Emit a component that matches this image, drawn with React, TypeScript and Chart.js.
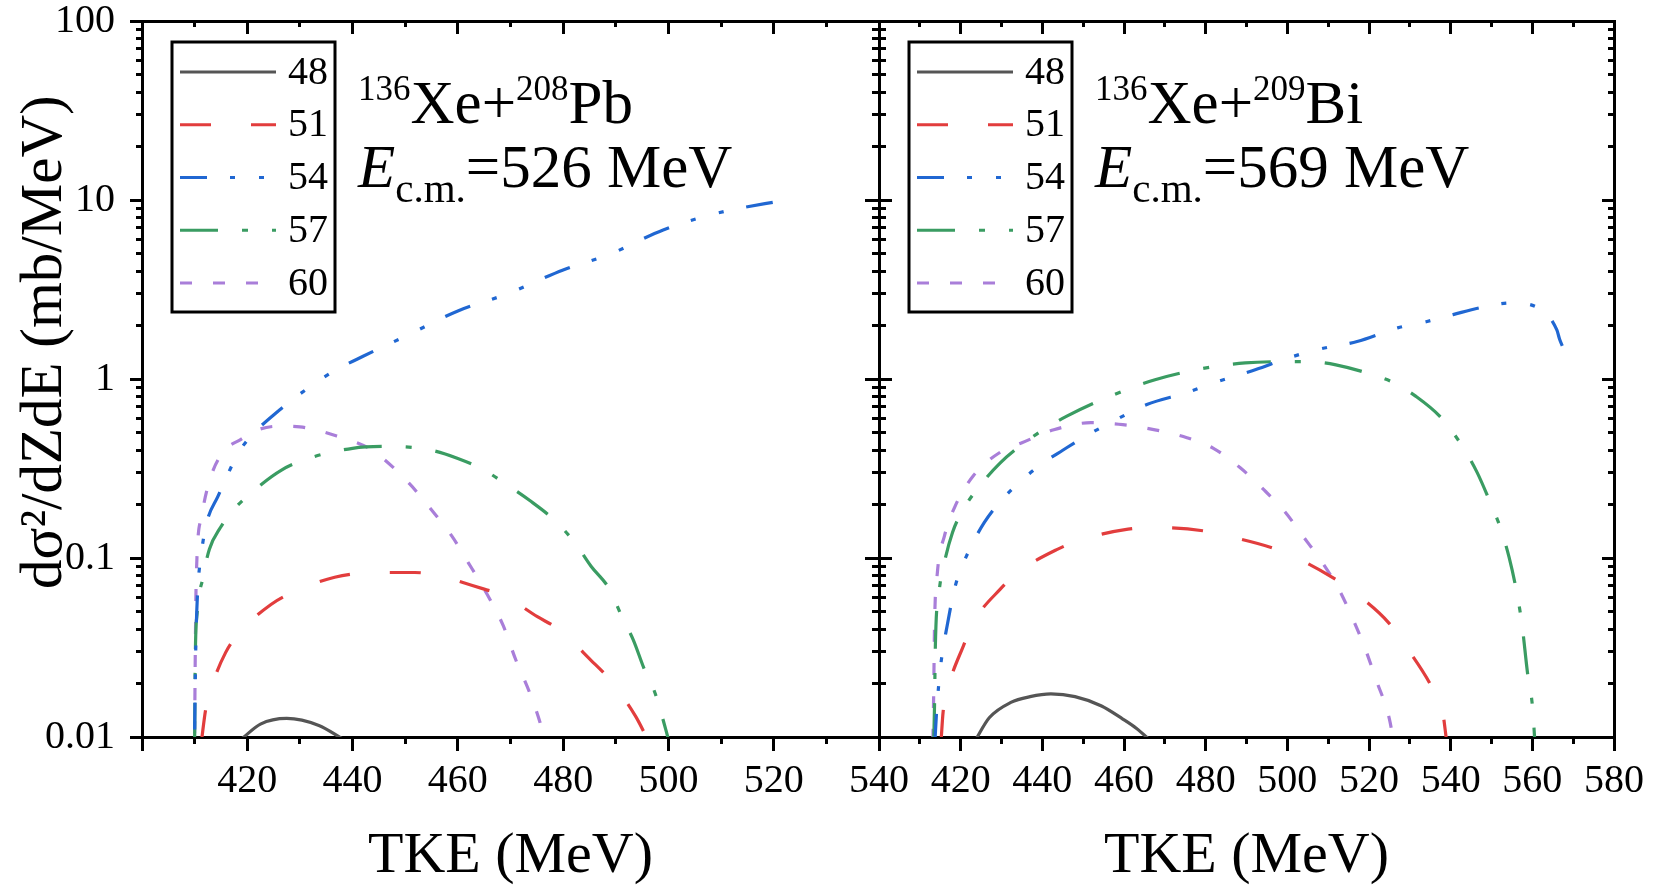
import { useEffect, useRef } from 'react';
import { Chart, registerables } from 'chart.js';
import type { ChartConfiguration, Plugin, Scale } from 'chart.js';

Chart.register(...registerables);

const FONT = '"Liberation Serif", "Times New Roman", serif';

// legend labels (Z) and line styles, same order for both panels
const zLabels = ['48', '51', '54', '57', '60'];
const lineColors = ['#555555', '#e23d3d', '#2067d2', '#3a9c62', '#a97ed9'];
const lineDashes = [[], [31, 40], [27, 23, 5, 24, 5, 23], [38, 24, 6, 24], [12, 21]];

// y axis ticks
const yDecades = [0.01, 0.1, 1, 10, 100];
const yTickLabels = ['0.01', '0.1', '1', '10', '100'];

// ---- 136Xe + 208Pb, Ecm = 526 MeV (TKE in MeV, cross section in mb/MeV)
const pbX48 = [419, 422.5, 427.5, 433.6, 438];
const pbY48 = [0.0098, 0.0118, 0.0127, 0.0116, 0.0098];
const pbX51 = [411.3, 412.1, 413.3, 415.9, 418.4, 424.5, 428.5, 436.6, 444.8, 451.8, 456, 465, 468.6, 475.1, 479.1, 485.2, 488.8, 493.8, 496.2];
const pbY51 = [0.0095, 0.0143, 0.0194, 0.0297, 0.038, 0.055, 0.064, 0.078, 0.083, 0.083, 0.08, 0.067, 0.062, 0.047, 0.04, 0.027, 0.021, 0.013, 0.0095];
const pbX54 = [410, 410.2, 410.5, 411.3, 412.3, 414.4, 418.4, 421, 425, 432, 437, 442, 450, 460, 469.5, 480, 489, 499, 509, 523];
const pbY54 = [0.011, 0.03, 0.059, 0.107, 0.158, 0.22, 0.39, 0.49, 0.63, 0.91, 1.13, 1.34, 1.73, 2.4, 3.0, 4.07, 5.0, 6.8, 8.4, 10.1];
const pbX57 = [410, 410.1, 410.5, 411.5, 412.8, 414.9, 417.4, 421.4, 426.5, 431.6, 440, 447, 455, 460, 465, 469, 473.6, 478.2, 482.2, 485.3, 488.8, 491.3, 493.3, 495.4, 497.4, 499.5, 500.5];
const pbY57 = [0.0095, 0.025, 0.05, 0.076, 0.112, 0.148, 0.186, 0.24, 0.31, 0.36, 0.41, 0.42, 0.4, 0.36, 0.31, 0.26, 0.21, 0.164, 0.122, 0.09, 0.067, 0.046, 0.035, 0.024, 0.0178, 0.011, 0.0085];
const pbX60 = [410, 410.1, 410.3, 411.3, 413, 415.4, 418.8, 422, 426, 430, 437, 443.7, 450.8, 454.9, 458.9, 462, 465, 468.6, 471, 473.6, 475.6, 477];
const pbY60 = [0.0105, 0.025, 0.076, 0.17, 0.28, 0.39, 0.46, 0.52, 0.545, 0.54, 0.48, 0.4, 0.26, 0.187, 0.132, 0.094, 0.067, 0.042, 0.027, 0.0178, 0.0121, 0.0085];

// ---- 136Xe + 209Bi, Ecm = 569 MeV
const biX48 = [423.5, 427, 432.3, 437, 442.1, 448, 454.5, 459.7, 463, 466.6];
const biY48 = [0.0095, 0.0128, 0.0156, 0.0168, 0.0174, 0.0168, 0.0149, 0.0126, 0.0112, 0.0095];
const biX51 = [415.2, 415.7, 417.1, 420.6, 423.2, 429.7, 434.3, 443.4, 449.3, 461, 467.6, 479.3, 485.8, 496.3, 501.5, 510.6, 516.5, 525, 529.5, 535.4, 538, 539];
const biY51 = [0.0095, 0.0138, 0.0195, 0.032, 0.044, 0.067, 0.084, 0.111, 0.126, 0.145, 0.148, 0.142, 0.132, 0.114, 0.102, 0.079, 0.064, 0.043, 0.031, 0.019, 0.014, 0.0095];
const biX54 = [413.7, 414.1, 415.1, 416.7, 418.7, 421.3, 425.8, 430.8, 435.6, 440.2, 445, 450.6, 455.8, 465.6, 475.4, 481.9, 492.3, 500.2, 507.3, 517.1, 527, 534, 540.6, 547.1, 555, 560.8, 566, 566.7, 567.5];
const biY54 = [0.0095, 0.0138, 0.025, 0.042, 0.07, 0.101, 0.158, 0.22, 0.28, 0.34, 0.4, 0.48, 0.556, 0.72, 0.84, 0.95, 1.13, 1.31, 1.46, 1.62, 1.93, 2.09, 2.29, 2.5, 2.66, 2.54, 1.88, 1.66, 1.5];
const biX57 = [413.4, 413.6, 413.8, 414.7, 416, 418, 420.6, 424.5, 429.7, 435, 440.2, 446, 456.5, 467.6, 478, 489.7, 500.2, 505.4, 511.9, 522.3, 526.2, 531.5, 537.3, 542.6, 546.5, 549.7, 552.3, 554.3, 556.2, 557.5, 558.8, 560.1, 560.6];
const biY57 = [0.0095, 0.015, 0.032, 0.064, 0.094, 0.139, 0.186, 0.25, 0.34, 0.43, 0.52, 0.62, 0.8, 0.99, 1.13, 1.23, 1.25, 1.25, 1.2, 1.03, 0.95, 0.8, 0.62, 0.43, 0.3, 0.204, 0.145, 0.101, 0.064, 0.042, 0.023, 0.0143, 0.0095];
const biX60 = [413.2, 413.4, 413.6, 414.3, 416, 418.7, 423.2, 429.7, 435, 442.8, 451.9, 459.7, 467.6, 475.4, 481.9, 488.4, 494.3, 499.5, 504.1, 508.6, 512.6, 515.8, 519.1, 521.7, 525, 526];
const biY60 = [0.0095, 0.018, 0.042, 0.083, 0.132, 0.196, 0.29, 0.39, 0.44, 0.52, 0.57, 0.556, 0.52, 0.47, 0.41, 0.32, 0.24, 0.18, 0.13, 0.094, 0.067, 0.047, 0.031, 0.021, 0.0126, 0.0095];

// text runs: [text, font size, baseline shift, italic]
type Run = [string, number, number, boolean?];
const pbReaction: Run[] = [['136', 35, -23], ['Xe+', 61, 0], ['208', 35, -23], ['Pb', 61, 0]];
const pbEnergy: Run[] = [['E', 61, 0, true], ['c.m.', 41, 15], ['=526 MeV', 61, 0]];
const biReaction: Run[] = [['136', 35, -23], ['Xe+', 61, 0], ['209', 35, -23], ['Bi', 61, 0]];
const biEnergy: Run[] = [['E', 61, 0, true], ['c.m.', 41, 15], ['=569 MeV', 61, 0]];

const yMinorTicks = yDecades.slice(0, -1).flatMap((d) => [2, 3, 4, 5, 6, 7, 8, 9].map((m) => m * d));

function drawRuns(ctx: CanvasRenderingContext2D, x: number, y: number, runs: Run[]) {
  let cx = x;
  for (const [text, size, dy, italic] of runs) {
    ctx.font = `${italic ? 'italic ' : ''}${size}px ${FONT}`;
    ctx.fillText(text, cx, y + dy);
    cx += ctx.measureText(text).width;
  }
}

function makeDecor(line1: Run[], line2: Run[]): Plugin<'line'> {
  return {
    id: 'panelDecor',
    afterDraw(chart) {
      const { ctx, chartArea } = chart;
      ctx.save();
      // legend box
      const bx = chartArea.left + 30;
      const by = chartArea.top + 21;
      ctx.fillStyle = '#fff';
      ctx.fillRect(bx, by, 163, 270);
      ctx.lineWidth = 3;
      ctx.strokeStyle = '#000';
      ctx.setLineDash([]);
      ctx.strokeRect(bx, by, 163, 270);
      chart.data.datasets.forEach((ds: any, i) => {
        const y = by + 30 + i * 52.75;
        ctx.strokeStyle = ds.borderColor;
        ctx.lineWidth = 3;
        ctx.lineCap = 'butt';
        ctx.setLineDash(ds.borderDash || []);
        ctx.beginPath();
        ctx.moveTo(bx + 8, y);
        ctx.lineTo(bx + 104, y);
        ctx.stroke();
        ctx.setLineDash([]);
        ctx.fillStyle = '#000';
        ctx.font = `40px ${FONT}`;
        ctx.textAlign = 'left';
        ctx.textBaseline = 'middle';
        ctx.fillText(ds.label, bx + 116, y + 1);
      });
      // reaction / energy text
      ctx.fillStyle = '#000';
      ctx.textBaseline = 'alphabetic';
      drawRuns(ctx, chartArea.left + 216, chartArea.top + 102, line1);
      drawRuns(ctx, chartArea.left + 216, chartArea.top + 166, line2);
      ctx.restore();
    },
  };
}

function tickOnly(position: string, type: string, min: number, max: number, len: number, opts: any = {}) {
  const horizontal = position === 'top' || position === 'bottom';
  return {
    type,
    position,
    min,
    max,
    weight: 0,
    ticks: { display: false, autoSkip: false, ...(opts.ticks || {}) },
    grid: { display: true, drawOnChartArea: false, drawTicks: true, tickLength: len, tickWidth: 3, tickColor: '#000' },
    border: { display: !!opts.border, width: 3, color: '#000' },
    afterBuildTicks: opts.afterBuildTicks,
    afterFit: (s: Scale) => {
      if (horizontal) s.height = 0;
      else s.width = 0;
      s.paddingLeft = 0;
      s.paddingRight = 0;
      s.paddingTop = 0;
      s.paddingBottom = 0;
    },
  };
}

function buildConfig(first: boolean, xMax: number, xs: number[][], ys: number[][], line1: Run[], line2: Run[]): ChartConfiguration<'line'> {
  const datasets = xs.map((xv, i) => ({
    label: zLabels[i],
    data: xv.map((x, j) => ({ x, y: ys[i][j] })),
    borderColor: lineColors[i],
    borderDash: lineDashes[i],
    borderWidth: 3.2,
    pointRadius: 0,
    fill: false,
    cubicInterpolationMode: 'monotone' as const,
    clip: 0,
  }));

  const setDecades = (s: Scale) => {
    s.ticks = yDecades.map((value) => ({ value }));
  };
  const setMinors = (s: Scale) => {
    s.ticks = yMinorTicks.map((value) => ({ value }));
  };

  const scales: any = {
    x: {
      type: 'linear',
      position: 'bottom',
      min: 400,
      max: xMax,
      weight: 10,
      ticks: {
        stepSize: 20,
        autoSkip: false,
        maxRotation: 0,
        color: '#000',
        padding: 6,
        font: { family: FONT, size: 40 },
        callback: (v: number) => (v === 400 ? '' : String(v)),
      },
      grid: { display: true, drawOnChartArea: false, drawTicks: true, tickLength: 14, tickWidth: 3, tickColor: '#000' },
      border: { display: true, width: 3, color: '#000' },
      title: {
        display: true,
        text: 'TKE (MeV)',
        color: '#000',
        font: { family: FONT, size: 58 },
        padding: { top: 0, bottom: 1 },
      },
      afterFit: (s: Scale) => {
        s.height = 156;
        s.paddingLeft = 0;
        s.paddingRight = 0;
      },
    },
    xMinor: tickOnly('bottom', 'linear', 400, xMax, 7, { ticks: { stepSize: 10 } }),
    xTop: tickOnly('top', 'linear', 400, xMax, -13, { ticks: { stepSize: 20 }, border: true }),
    xTopMinor: tickOnly('top', 'linear', 400, xMax, -6, { ticks: { stepSize: 10 } }),
  };

  if (first) {
    scales.y = {
      type: 'logarithmic',
      position: 'left',
      min: 0.01,
      max: 100,
      weight: 10,
      afterBuildTicks: setDecades,
      ticks: {
        autoSkip: false,
        color: '#000',
        padding: 15,
        font: { family: FONT, size: 40 },
        callback: (_v: number, i: number) => yTickLabels[i],
      },
      grid: { display: true, drawOnChartArea: false, drawTicks: true, tickLength: 12, tickWidth: 3, tickColor: '#000' },
      border: { display: true, width: 3, color: '#000' },
      title: {
        display: true,
        text: '     d\u03c3\u00b2/dZdE (mb/MeV)',
        color: '#000',
        font: { family: FONT, size: 59 },
        padding: { top: 10, bottom: 0 },
      },
      afterFit: (s: Scale) => {
        s.width = 142;
        s.paddingTop = 0;
        s.paddingBottom = 0;
      },
    };
    scales.yMinor = tickOnly('left', 'logarithmic', 0.01, 100, 6, { afterBuildTicks: setMinors });
    scales.yRight = tickOnly('right', 'logarithmic', 0.01, 100, 13, { afterBuildTicks: setDecades, border: true });
    scales.yRightMinor = tickOnly('right', 'logarithmic', 0.01, 100, 7, { afterBuildTicks: setMinors });
  } else {
    scales.y = tickOnly('left', 'logarithmic', 0.01, 100, 14, { afterBuildTicks: setDecades, border: true });
    scales.yMinor = tickOnly('left', 'logarithmic', 0.01, 100, 7, { afterBuildTicks: setMinors });
    scales.yRight = tickOnly('right', 'logarithmic', 0.01, 100, -12, { afterBuildTicks: setDecades, border: true });
    scales.yRightMinor = tickOnly('right', 'logarithmic', 0.01, 100, -6, { afterBuildTicks: setMinors });
  }

  return {
    type: 'line',
    data: { datasets },
    options: {
      responsive: false,
      maintainAspectRatio: false,
      animation: false,
      layout: first
        ? { padding: { left: 0, right: 81, top: 21, bottom: 0 } }
        : { padding: { left: 79, right: 40, top: 21, bottom: 0 } },
      plugins: { legend: { display: false }, tooltip: { enabled: false } },
      scales,
    },
    plugins: [makeDecor(line1, line2)],
  };
}

export default function App() {
  const leftRef = useRef<HTMLCanvasElement>(null);
  const rightRef = useRef<HTMLCanvasElement>(null);

  useEffect(() => {
    Chart.defaults.font.family = FONT;
    const charts: Chart[] = [];
    if (leftRef.current) {
      charts.push(
        new Chart(
          leftRef.current,
          buildConfig(true, 540, [pbX48, pbX51, pbX54, pbX57, pbX60], [pbY48, pbY51, pbY54, pbY57, pbY60], pbReaction, pbEnergy)
        )
      );
    }
    if (rightRef.current) {
      charts.push(
        new Chart(
          rightRef.current,
          buildConfig(false, 580, [biX48, biX51, biX54, biX57, biX60], [biY48, biY51, biY54, biY57, biY60], biReaction, biEnergy)
        )
      );
    }
    return () => charts.forEach((c) => c.destroy());
  }, []);

  return (
    <div style={{ position: 'absolute', left: 0, top: 0, width: 1654, height: 893, background: '#fff' }}>
      <canvas ref={leftRef} width={960} height={893} style={{ position: 'absolute', left: 0, top: 0, width: 960, height: 893 }} />
      <canvas ref={rightRef} width={854} height={893} style={{ position: 'absolute', left: 800, top: 0, width: 854, height: 893 }} />
    </div>
  );
}
